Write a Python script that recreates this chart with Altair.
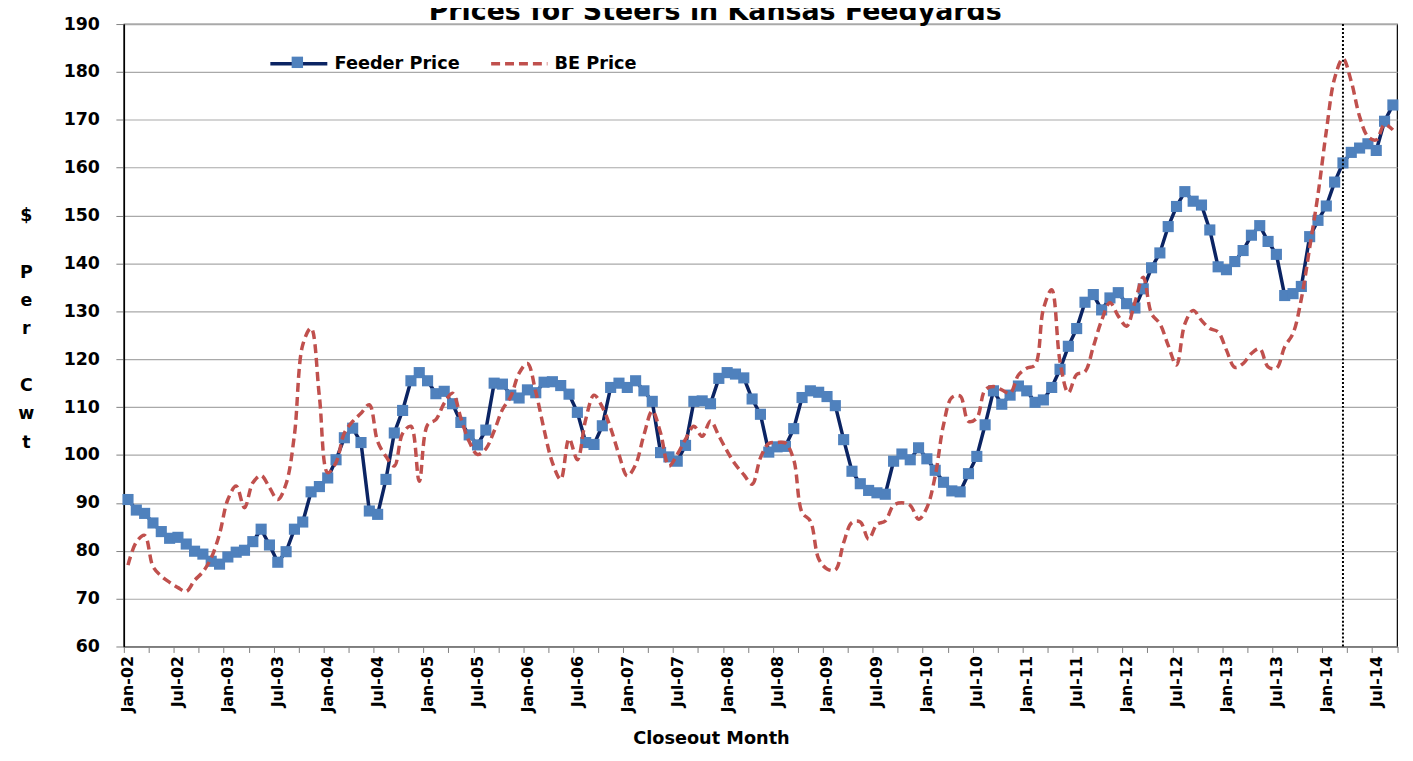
import altair as alt
import pandas as pd

# ---------------- data ----------------
YEARS = list(range(2002, 2015))
MONTH_NAMES = ["Jan", "Feb", "Mar", "Apr", "May", "Jun", "Jul", "Aug", "Sep", "Oct", "Nov", "Dec"]

feeder_2002 = [90.7, 88.5, 87.8, 85.8, 84.0, 82.6, 82.8, 81.4, 79.9, 79.3, 77.8, 77.2]
feeder_2003 = [78.7, 79.7, 80.1, 81.9, 84.5, 81.2, 77.6, 79.8, 84.5, 86.0, 92.3, 93.4]
feeder_2004 = [95.2, 99.0, 103.6, 105.6, 102.6, 88.3, 87.6, 94.9, 104.6, 109.3, 115.5, 117.2]
feeder_2005 = [115.5, 112.8, 113.3, 110.7, 106.8, 104.2, 102.1, 105.2, 115.0, 114.8, 112.5, 111.9]
feeder_2006 = [113.6, 113.0, 115.2, 115.3, 114.5, 112.7, 108.9, 102.6, 102.2, 106.1, 114.1, 115.0]
feeder_2007 = [114.1, 115.5, 113.4, 111.2, 100.5, 99.6, 98.7, 102.0, 111.2, 111.3, 110.7, 116.0]
feeder_2008 = [117.2, 116.9, 116.1, 111.7, 108.5, 100.6, 101.7, 101.8, 105.5, 112.0, 113.4, 113.1]
feeder_2009 = [112.2, 110.3, 103.2, 96.6, 94.0, 92.6, 92.1, 91.8, 98.7, 100.2, 99.0, 101.5]
feeder_2010 = [99.2, 96.8, 94.3, 92.5, 92.3, 96.1, 99.7, 106.3, 113.4, 110.6, 112.5, 114.4]
feeder_2011 = [113.4, 111.0, 111.5, 114.1, 117.9, 122.7, 126.4, 131.9, 133.5, 130.3, 132.8, 133.9]
feeder_2012 = [131.6, 130.7, 134.7, 139.1, 142.2, 147.7, 151.9, 155.0, 153.0, 152.2, 147.0, 139.3]
feeder_2013 = [138.7, 140.4, 142.7, 145.9, 147.9, 144.6, 141.9, 133.3, 133.7, 135.2, 145.6, 149.0]
feeder_2014 = [152.0, 157.0, 161.0, 163.2, 164.1, 165.0, 163.6, 169.7, 173.1]

be_2002 = [77.0, 81.8, 83.2, 76.7, 74.7, 73.4, 72.3, 71.5, 73.8, 75.6, 78.5, 83.5]
be_2003 = [90.7, 93.5, 89.0, 94.2, 95.7, 93.2, 90.7, 94.0, 104.2, 123.0, 126.5, 112.2]
be_2004 = [96.3, 98.4, 104.6, 107.0, 108.7, 110.5, 102.8, 99.7, 97.7, 104.5, 106.0, 94.5]
be_2005 = [106.3, 107.4, 110.8, 112.9, 107.7, 102.8, 100.1, 101.3, 105.0, 109.5, 112.2, 117.1]
be_2006 = [119.1, 113.2, 105.3, 98.4, 94.9, 103.4, 99.0, 107.4, 112.5, 110.0, 105.6, 100.1]
be_2007 = [95.6, 98.0, 104.2, 109.2, 104.6, 97.7, 100.1, 103.3, 106.0, 103.9, 107.1, 104.0]
be_2008 = [100.8, 98.0, 95.9, 93.9, 99.4, 102.4, 102.6, 102.5, 99.0, 88.0, 86.2, 78.3]
be_2009 = [76.2, 76.0, 81.7, 85.9, 86.0, 82.4, 85.5, 86.2, 89.5, 90.0, 89.5, 86.6]
be_2010 = [89.0, 95.6, 106.3, 112.0, 112.3, 107.0, 107.7, 113.6, 114.3, 113.6, 112.9, 116.7]
be_2011 = [118.1, 118.8, 130.5, 134.5, 119.5, 113.0, 116.8, 117.4, 122.6, 128.1, 131.8, 129.0]
be_2012 = [126.9, 131.9, 137.1, 129.5, 127.4, 122.9, 118.8, 127.4, 130.2, 128.1, 126.4, 125.7]
be_2013 = [121.9, 118.3, 119.1, 121.2, 122.2, 118.4, 118.1, 122.6, 125.4, 132.6, 143.3, 154.4]
be_2014 = [167.6, 178.7, 182.8, 178.0, 170.7, 166.5, 165.8, 169.0, 167.9]

TICK_LABELS = ["Jan-02", "Jul-02", "Jan-03", "Jul-03", "Jan-04", "Jul-04", "Jan-05", "Jul-05",
               "Jan-06", "Jul-06", "Jan-07", "Jul-07", "Jan-08", "Jul-08", "Jan-09", "Jul-09",
               "Jan-10", "Jul-10", "Jan-11", "Jul-11", "Jan-12", "Jul-12", "Jan-13", "Jul-13",
               "Jan-14", "Jul-14"]
Y_TICKS = [60, 70, 80, 90, 100, 110, 120, 130, 140, 150, 160, 170, 180, 190]
DIVIDER_MONTH = "Mar-14"

TITLE = "Prices for Steers in Kansas Feedyards"
X_TITLE = "Closeout Month"
BLANK = "\u2800"  # blank line placeholder (kept by the renderer, draws nothing)
Y_TITLE = ["$", BLANK, "P", "e", "r", BLANK, "C", "w", "t"]
SERIES_FEEDER = "Feeder Price"
SERIES_FEEDER_MARKER = "Feeder Price marker"
SERIES_BE = "BE Price"

# ---------------- build table ----------------
feeder = (feeder_2002 + feeder_2003 + feeder_2004 + feeder_2005 + feeder_2006 + feeder_2007 +
          feeder_2008 + feeder_2009 + feeder_2010 + feeder_2011 + feeder_2012 + feeder_2013 + feeder_2014)
be = (be_2002 + be_2003 + be_2004 + be_2005 + be_2006 + be_2007 + be_2008 + be_2009 +
      be_2010 + be_2011 + be_2012 + be_2013 + be_2014)
months = [f"{MONTH_NAMES[k % 12]}-{(YEARS[0] + k // 12) % 100:02d}" for k in range(len(feeder))]
n = len(feeder)

df = pd.DataFrame({
    "m": list(range(n)),
    "month": months,
    "feeder": feeder,
    "be": be,
    "s_line": SERIES_FEEDER,
    "s_pt": SERIES_FEEDER_MARKER,
    "s_be": SERIES_BE,
})
div_df = pd.DataFrame({"m": [months.index(DIVIDER_MONTH)]})

# ---------------- styling ----------------
FONT = "DejaVu Sans"
NAVY = "#0B2463"
BLUE = "#4F81BD"
RED = "#C0504D"
GRID = "#A9A9A9"

arr = "[" + ",".join(f"'{t}'" for t in TICK_LABELS) + "]"
label_expr = f"round((datum.value + 0.5) / 3) % 2 == 0 ? {arr}[round((datum.value + 0.5) / 6)] : ''"

x_scale = alt.Scale(domain=[-0.5, n - 0.5], nice=False, zero=False)
x_axis = alt.Axis(
    values=[-0.5 + 3 * k for k in range(n // 3 + 1)],
    labelExpr=label_expr, labelAngle=-90, labelAlign="right", labelBaseline="middle",
    labelOffset=4.19, labelPadding=3, labelOverlap=False, labelFlush=False, labelBound=False,
    labelFont=FONT, labelFontSize=16, labelFontWeight="bold", labelColor="black",
    tickSize=6, tickColor="#808080", tickWidth=1, domainColor="#808080", domainWidth=1.5,
    grid=False,
    title=X_TITLE, titleX=590.5, titleY=93, titleAngle=0, titleAlign="center",
    titleBaseline="middle", titleFont=FONT, titleFontSize=17.8, titleFontWeight="bold",
    titleColor="black",
)
y_scale = alt.Scale(domain=[60, 190], nice=False, zero=False)
y_axis = alt.Axis(
    values=Y_TICKS, labelFont=FONT, labelFontSize=17.5, labelFontWeight="bold",
    labelColor="black", labelPadding=16.5,
    tickSize=8, tickColor="#808080", domainColor="black", domainWidth=1.5,
    grid=True, gridColor=GRID, gridWidth=1.2,
    title=Y_TITLE, titleAngle=0, titleX=-98.5, titleY=183.5, titleBaseline="top",
    titleAlign="center", titleLineHeight=28.5, titleFont=FONT, titleFontSize=17.5,
    titleFontWeight="bold", titleColor="black",
)

X = alt.X("m:Q", scale=x_scale, axis=x_axis)

legend_common = dict(orient="none", title=None, padding=0, labelFont=FONT,
                     labelFontSize=17.8, labelFontWeight="bold", labelColor="black")
leg_line = alt.Legend(legendX=145.5, legendY=9.5, symbolType="stroke", symbolSize=3283,
                      symbolStrokeWidth=3.5, symbolStrokeColor=NAVY, labelOffset=5.4,
                      **legend_common)
leg_pt = alt.Legend(legendX=145.5, legendY=9.5, symbolType="M-0.2,-0.2H0.2V0.2H-0.2Z",
                    symbolSize=3283, symbolFillColor=BLUE, symbolStrokeWidth=0,
                    labelOffset=5.4, labelExpr="''", **legend_common)
leg_be = alt.Legend(legendX=367.2, legendY=9.5, symbolType="stroke", symbolSize=3204,
                    symbolStrokeWidth=3.5, symbolStrokeColor=RED, symbolDash=[9, 5],
                    labelOffset=5, **legend_common)

feeder_line = alt.Chart(df).mark_line(strokeWidth=3.5).encode(
    x=X,
    y=alt.Y("feeder:Q", scale=y_scale, axis=y_axis),
    color=alt.Color("s_line:N", scale=alt.Scale(domain=[SERIES_FEEDER], range=[NAVY]), legend=leg_line),
)
feeder_pts = alt.Chart(df).mark_square(size=125, opacity=1, filled=True).encode(
    x=X,
    y=alt.Y("feeder:Q", scale=y_scale, axis=y_axis),
    fill=alt.Fill("s_pt:N", scale=alt.Scale(domain=[SERIES_FEEDER_MARKER], range=[BLUE]), legend=leg_pt),
)
be_line = alt.Chart(df).mark_line(interpolate="catmull-rom", strokeWidth=3.5, color=RED).encode(
    x=X,
    y=alt.Y("be:Q", scale=y_scale, axis=y_axis),
    strokeDash=alt.StrokeDash("s_be:N", scale=alt.Scale(domain=[SERIES_BE], range=[[9, 5]]), legend=leg_be),
)
divider = alt.Chart(div_df).mark_rule(color="black", strokeWidth=2, strokeDash=[2, 2]).encode(x=X)

chart = alt.layer(feeder_line, feeder_pts, be_line, divider).properties(
    width=1280.5,
    height=626,
    padding={"left": 116.5, "top": 14, "right": 8, "bottom": 113},
    autosize=alt.AutoSizeParams(type="none"),
    title=alt.TitleParams(TITLE, font=FONT, fontSize=27, fontWeight="bold", color="black",
                          anchor="middle", frame="group", dx=-45.5, offset=-32,
                          baseline="alphabetic"),
).configure_view(stroke="black", strokeWidth=1.2)

chart.save("out.html", embed_options={"renderer": "svg", "actions": False})
